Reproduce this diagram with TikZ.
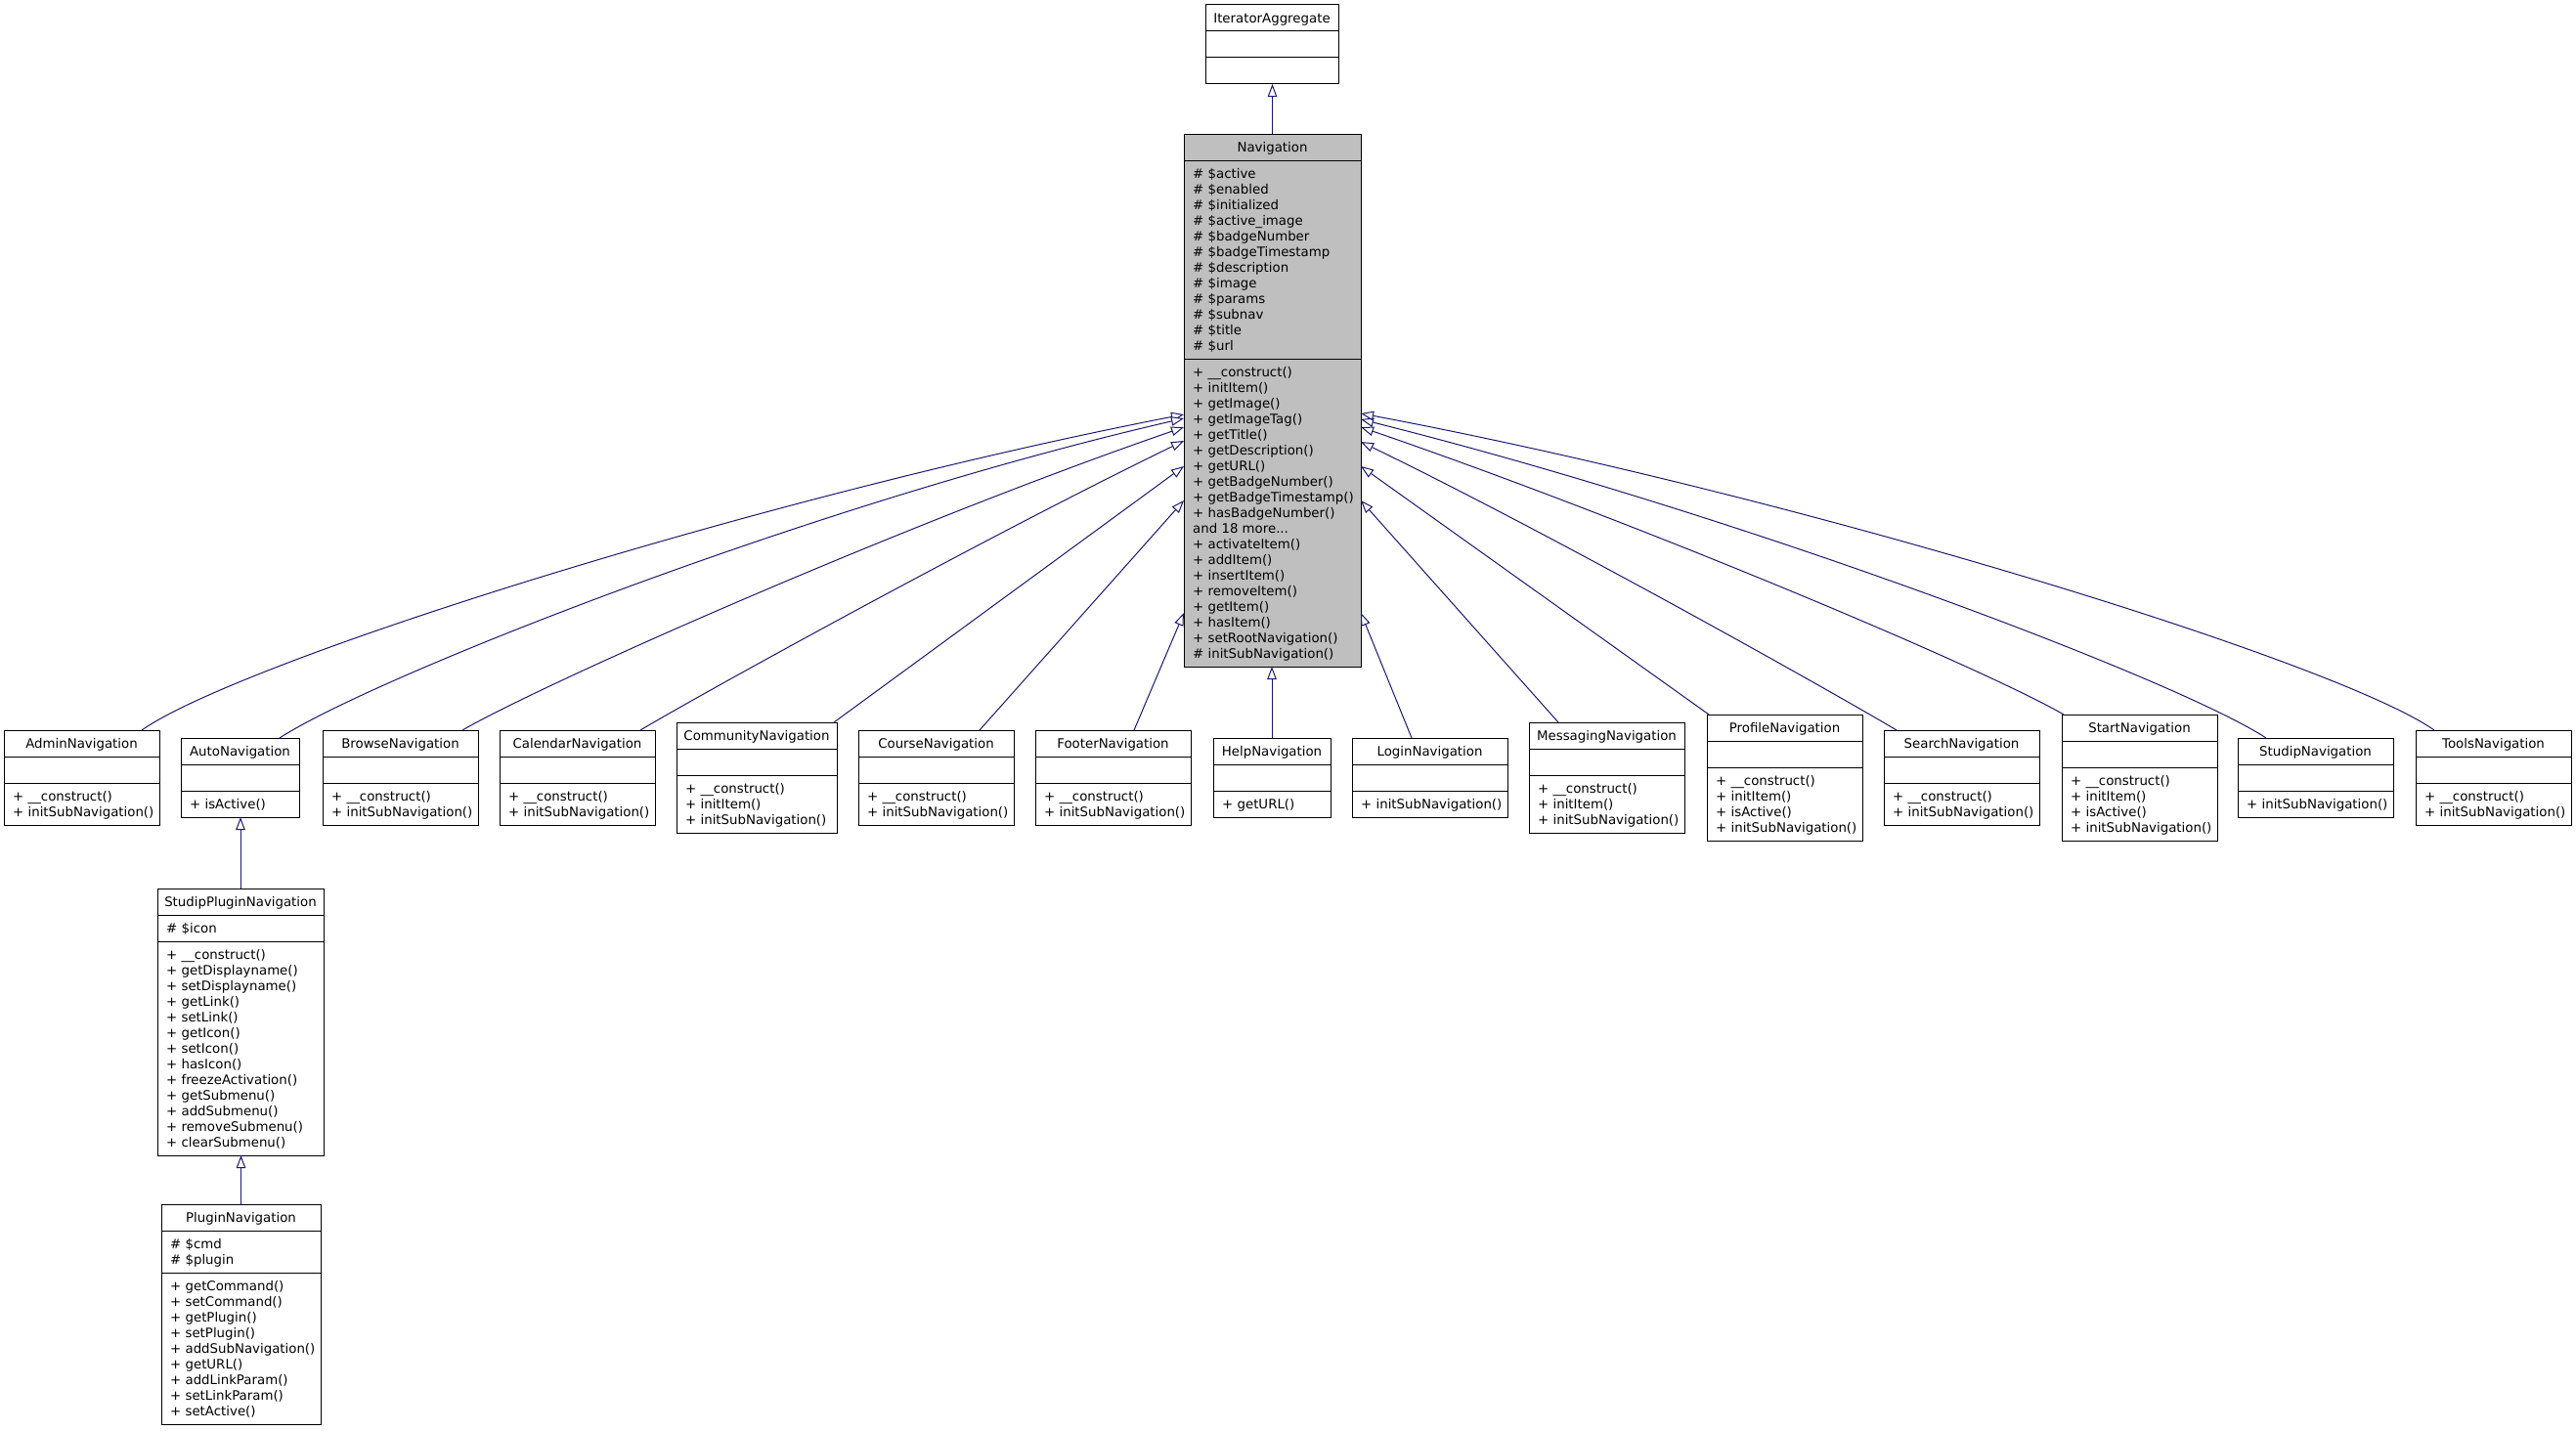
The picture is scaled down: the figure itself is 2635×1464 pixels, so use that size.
\documentclass[tikz,border=0pt]{standalone}
\usepackage{fontspec}
\setmainfont{DejaVu Sans}
\usetikzlibrary{arrows.meta,calc}
\definecolor{edgeblue}{HTML}{191970}
\definecolor{navgrey}{HTML}{BFBFBF}
\tikzset{
  classbox/.style={draw=black, line width=1pt, inner sep=0pt, outer sep=0pt},
  divider/.style={draw=black, line width=1pt},
  classtext/.style={inner sep=0pt, font={\fontsize{13.33}{16}\selectfont}, text=black},
  inh/.style={draw=edgeblue, line width=1pt, -{Triangle[length=13pt,width=9.5pt,fill=white]}}
}
% #1 name, #2 fill, #3 top-left, #4 width, #5 title, #6 n attrs, #7 attrs, #8 n methods, #9 methods
\newcommand\umlclass[9]{%
  \pgfmathsetmacro\hA{(#6==0)*27+(#6>0)*(16*#6+11)}%
  \pgfmathsetmacro\hM{(#8==0)*27+(#8>0)*(16*#8+11)}%
  \pgfmathsetmacro\hT{27+\hA+\hM}%
  \node[classbox, fill=#2, minimum width=#4pt, minimum height=\hT pt, anchor=north west] (#1) at (#3) {};
  \draw[divider] ($(#1.north west)+(0,27)$) -- ($(#1.north east)+(0,27)$);
  \draw[divider] ($(#1.north west)+(0,27+\hA)$) -- ($(#1.north east)+(0,27+\hA)$);
  \node[classtext, anchor=base] (#1-t) at ($(#1.north)+(0,18.5)$) {#5};
  \node[classtext, anchor=north west, align=left] (#1-a) at ($(#1.north west)+(9,33.8)$) {\strut #7};
  \node[classtext, anchor=north west, align=left] (#1-m) at ($(#1.north west)+(9,33.8+\hA)$) {\strut #9};
}
\begin{document}
\begin{tikzpicture}[x=1pt,y=-1pt]
\useasboundingbox (0,0) rectangle (2635,1464);

\umlclass{iter}{white}{1233,5}{136}{IteratorAggregate}{0}{}{0}{}
\umlclass{navig}{navgrey}{1211,137}{181}{Navigation}{12}{\# \$active\\\# \$enabled\\\# \$initialized\\\# \$active\_image\\\# \$badgeNumber\\\# \$badgeTimestamp\\\# \$description\\\# \$image\\\# \$params\\\# \$subnav\\\# \$title\\\# \$url}{19}{+ \_\_construct()\\+ initItem()\\+ getImage()\\+ getImageTag()\\+ getTitle()\\+ getDescription()\\+ getURL()\\+ getBadgeNumber()\\+ getBadgeTimestamp()\\+ hasBadgeNumber()\\and 18 more...\\+ activateItem()\\+ addItem()\\+ insertItem()\\+ removeItem()\\+ getItem()\\+ hasItem()\\+ setRootNavigation()\\\# initSubNavigation()}

\umlclass{admin}{white}{4,747}{159}{AdminNavigation}{0}{}{2}{+ \_\_construct()\\+ initSubNavigation()}
\umlclass{auto}{white}{185,755}{121}{AutoNavigation}{0}{}{1}{+ isActive()}
\umlclass{browse}{white}{330,747}{159}{BrowseNavigation}{0}{}{2}{+ \_\_construct()\\+ initSubNavigation()}
\umlclass{calendar}{white}{511,747}{159}{CalendarNavigation}{0}{}{2}{+ \_\_construct()\\+ initSubNavigation()}
\umlclass{community}{white}{692,739}{164}{CommunityNavigation}{0}{}{3}{+ \_\_construct()\\+ initItem()\\+ initSubNavigation()}
\umlclass{course}{white}{878,747}{159}{CourseNavigation}{0}{}{2}{+ \_\_construct()\\+ initSubNavigation()}
\umlclass{footer}{white}{1059,747}{159}{FooterNavigation}{0}{}{2}{+ \_\_construct()\\+ initSubNavigation()}
\umlclass{help}{white}{1241,755}{120}{HelpNavigation}{0}{}{1}{+ getURL()}
\umlclass{login}{white}{1383,755}{159}{LoginNavigation}{0}{}{1}{+ initSubNavigation()}
\umlclass{messaging}{white}{1564,739}{159}{MessagingNavigation}{0}{}{3}{+ \_\_construct()\\+ initItem()\\+ initSubNavigation()}
\umlclass{profile}{white}{1746,731}{159}{ProfileNavigation}{0}{}{4}{+ \_\_construct()\\+ initItem()\\+ isActive()\\+ initSubNavigation()}
\umlclass{search}{white}{1927,747}{159}{SearchNavigation}{0}{}{2}{+ \_\_construct()\\+ initSubNavigation()}
\umlclass{start}{white}{2109,731}{159}{StartNavigation}{0}{}{4}{+ \_\_construct()\\+ initItem()\\+ isActive()\\+ initSubNavigation()}
\umlclass{studip}{white}{2289,755}{159}{StudipNavigation}{0}{}{1}{+ initSubNavigation()}
\umlclass{tools}{white}{2471,747}{159}{ToolsNavigation}{0}{}{2}{+ \_\_construct()\\+ initSubNavigation()}

\umlclass{studipplugin}{white}{161,909}{170}{StudipPluginNavigation}{1}{\# \$icon}{13}{+ \_\_construct()\\+ getDisplayname()\\+ setDisplayname()\\+ getLink()\\+ setLink()\\+ getIcon()\\+ setIcon()\\+ hasIcon()\\+ freezeActivation()\\+ getSubmenu()\\+ addSubmenu()\\+ removeSubmenu()\\+ clearSubmenu()}
\umlclass{plugin}{white}{165,1232}{163}{PluginNavigation}{2}{\# \$cmd\\\# \$plugin}{9}{+ getCommand()\\+ setCommand()\\+ getPlugin()\\+ setPlugin()\\+ addSubNavigation()\\+ getURL()\\+ addLinkParam()\\+ setLinkParam()\\+ setActive()}

% vertical inheritance
\draw[inh] (navig.north) -- (navig.north |- iter.south);
\draw[inh] (help.north) -- (help.north |- navig.south);
\draw[inh] (studipplugin.north) -- (studipplugin.north |- auto.south);
\draw[inh] (plugin.north) -- (plugin.north |- studipplugin.south);

% left side
\draw[inh] ($(admin.north west)+(141,0)$) .. controls +(98,-69) and +(-442,86) .. ($(navig.north west)+(0,287)$);
\draw[inh] ($(auto.north west)+(101,0)$) .. controls +(92,-60) and +(-390,90) .. ($(navig.north west)+(0,291)$);
\draw[inh] ($(browse.north west)+(143,0)$) .. controls +(87,-50) and +(-284,98) .. ($(navig.north west)+(0,300)$);
\draw[inh] ($(calendar.north west)+(144,0)$) .. controls +(69,-41) and +(-198,96) .. ($(navig.north west)+(0,314)$);
\draw[inh] ($(community.north west)+(161,0)$) -- ($(navig.north west)+(0,340)$);
\draw[inh] ($(course.north west)+(124,0)$) -- ($(navig.north west)+(0,375)$);
\draw[inh] ($(footer.north west)+(101,0)$) -- ($(navig.north west)+(0,490)$);

% right side
\draw[inh] ($(login.north west)+(61,0)$) -- ($(navig.north east)+(0,490)$);
\draw[inh] ($(messaging.north west)+(30,0)$) -- ($(navig.north east)+(0,375)$);
\draw[inh] ($(profile.north west)+(2,0)$) -- ($(navig.north east)+(0,340)$);
\draw[inh] ($(search.north west)+(13,0)$) .. controls +(-69,-41) and +(198,96) .. ($(navig.north east)+(0,315)$);
\draw[inh] ($(start.north west)+(2,0)$) .. controls +(-87,-50) and +(274,94) .. ($(navig.north east)+(0,300)$);
\draw[inh] ($(studip.north west)+(29,0)$) .. controls +(-92,-60) and +(388,97) .. ($(navig.north east)+(0,292)$);
\draw[inh] ($(tools.north west)+(19,0)$) .. controls +(-98,-69) and +(452,85) .. ($(navig.north east)+(0,286)$);
\end{tikzpicture}
\end{document}
